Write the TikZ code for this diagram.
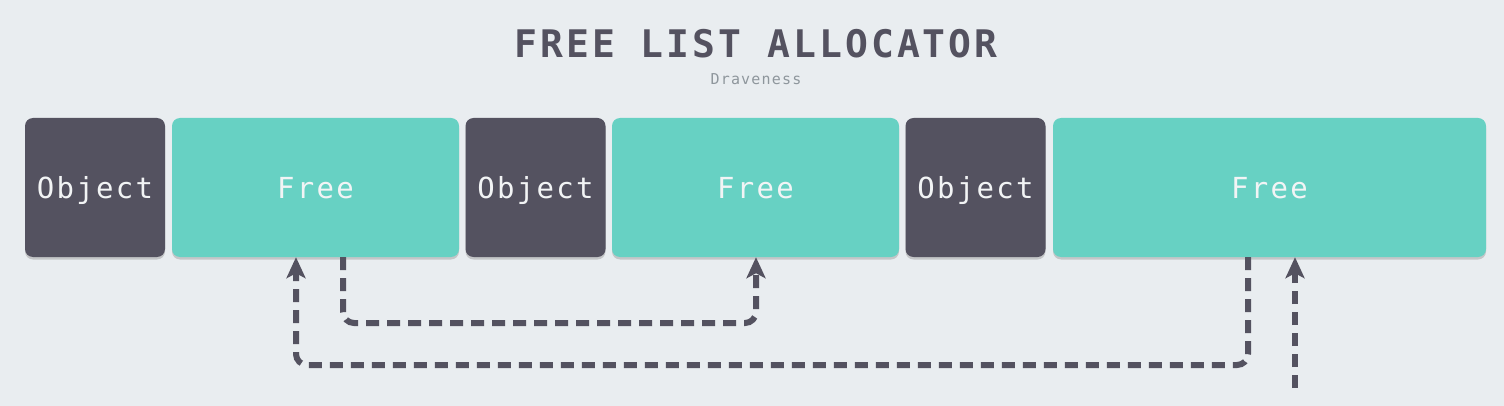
\documentclass[tikz,border=0pt]{standalone}
\usepackage{fontspec}
\setmonofont{DejaVu Sans Mono}[LetterSpace=8]
\usetikzlibrary{arrows.meta,shadows}
\definecolor{bgc}{HTML}{E9EDF0}
\definecolor{objc}{HTML}{545260}
\definecolor{freec}{HTML}{67D1C3}
\definecolor{txtc}{HTML}{F2F4F5}
\definecolor{subc}{HTML}{8E969C}
\tikzset{
  blk/.style={rounded corners=8pt, minimum height=139pt, inner sep=0pt,
    text height=23pt, text depth=0pt,
    font=\ttfamily\fontsize{29}{29}\selectfont, text=txtc,
    drop shadow={shadow xshift=0pt, shadow yshift=-2.5pt, opacity=0.35}},
  objbox/.style={blk, fill=objc, minimum width=140pt},
  freebox/.style={blk, fill=freec},
  link/.style={draw=objc, line width=6pt, dash pattern=on 13pt off 8pt,
    rounded corners=11pt, -{Stealth[length=21pt,width=19pt,inset=5pt]}}
}
\begin{document}
\begin{tikzpicture}[x=1pt,y=-1pt]
\fill[bgc] (0,0) rectangle (1504,406);
\useasboundingbox (0,0) rectangle (1504,406);
\node[anchor=base, text=objc, font=\ttfamily\bfseries\fontsize{38}{38}\selectfont] (title) at (756,58) {FREE LIST ALLOCATOR};
\node[anchor=base, text=subc, font=\ttfamily\fontsize{15}{15}\selectfont] (sub) at (756,85) {Draveness};
\node[objbox] (o1) at (95,187.5) {Object};
\node[freebox, minimum width=287pt] (f1) at (315.5,187.5) {Free};
\node[objbox] (o2) at (535.5,187.5) {Object};
\node[freebox, minimum width=287pt] (f2) at (755.5,187.5) {Free};
\node[objbox] (o3) at (975.5,187.5) {Object};
\node[freebox, minimum width=433pt] (f3) at (1269.5,187.5) {Free};
\coordinate (src) at (1295,388);
\draw[link] (f1.south -| 343,0) -- (343,323) -- (756,323) -- (f2.south -| 756,0);
\draw[link] (f3.south -| 1248,0) -- (1248,365) -- (296,365) -- (f1.south -| 296,0);
\draw[link] (src) -- (f3.south -| src);
\end{tikzpicture}
\end{document}
